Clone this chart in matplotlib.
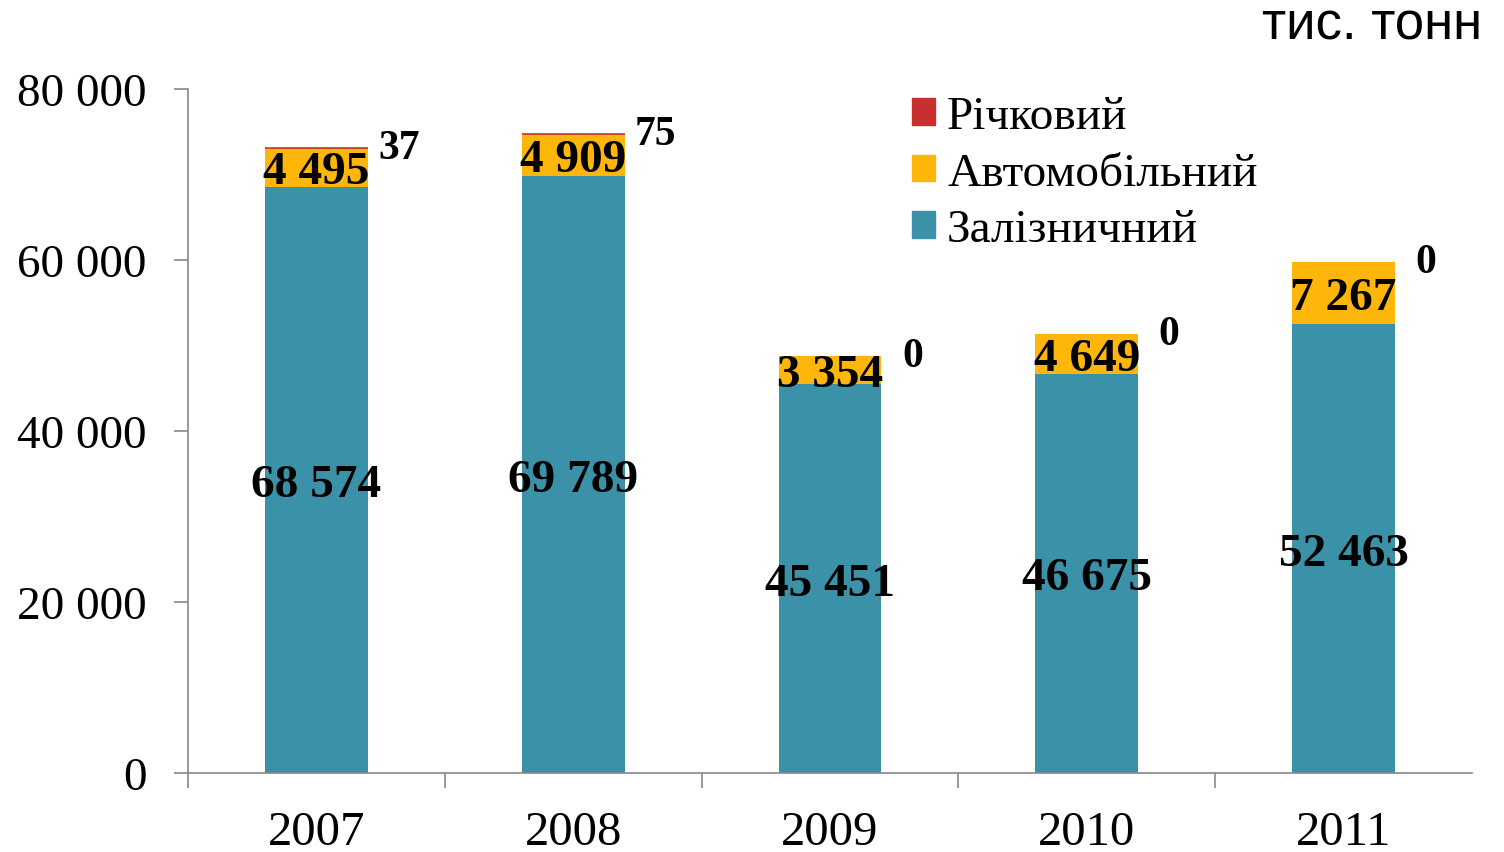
import matplotlib.pyplot as plt
from matplotlib.patches import Patch
import numpy as np

years = ["2007", "2008", "2009", "2010", "2011"]
rail = [68574, 69789, 45451, 46675, 52463]
road = [4495, 4909, 3354, 4649, 7267]
river = [37, 75, 0, 0, 0]
yticks = [0, 20000, 40000, 60000, 80000]
series_names = ["Річковий", "Автомобільний", "Залізничний"]

c_rail = "#3A91A8"
c_road = "#FFB60A"
c_river = "#C8302E"
serif = ["Liberation Serif", "DejaVu Serif"]


def fmt(v):
	return f"{v:,}".replace(",", " ")


def main():
	fig = plt.figure(figsize=(15.04, 8.53), dpi=100)
	ax = fig.add_axes([188 / 1504, 79 / 853, (1472 - 188) / 1504, 684 / 853])

	x = np.arange(len(years))
	w = 0.4
	rail_a = np.array(rail)
	road_a = np.array(road)
	river_a = np.array(river)
	ax.bar(x, rail_a, w, color=c_rail)
	ax.bar(x, road_a, w, bottom=rail_a, color=c_road)
	# thin river segments get an outline so they stay visible
	ax.bar(x, river_a, w, bottom=rail_a + road_a, color=c_river, edgecolor=c_river,
		   linewidth=[1.2 if v > 0 else 0 for v in river])

	for i in range(len(years)):
		ax.text(x[i], rail[i] / 2, fmt(rail[i]), ha="center", va="center_baseline",
				fontsize=34, fontweight="bold", family=serif)
		ax.text(x[i], rail[i] + road[i] / 2, fmt(road[i]), ha="center", va="center_baseline",
				fontsize=34, fontweight="bold", family=serif)
		ax.annotate(fmt(river[i]), (x[i] + w / 2, rail[i] + road[i] + river[i]),
					xytext=(31, 0), textcoords="offset pixels", ha="center", va="center",
					fontsize=30, fontweight="bold", family=serif)

	ax.set_xlim(-0.5, len(years) - 0.5)
	ax.set_ylim(0, 80000)
	ax.set_yticks(yticks)
	ax.set_yticklabels([fmt(v) for v in yticks], family=serif, fontsize=34)
	ax.set_xticks(x)
	ax.set_xticklabels(years, family=serif, fontsize=35)
	ax.set_xticks(np.arange(-0.5, len(years) - 0.5, 1.0), minor=True)

	ax.tick_params(axis="y", length=10, width=1.2, color="#888888", pad=20)
	ax.tick_params(axis="x", which="major", length=0, pad=27)
	ax.tick_params(axis="x", which="minor", length=11, width=1.2, color="#888888")

	for s in ["top", "right"]:
		ax.spines[s].set_visible(False)
	for s in ["left", "bottom"]:
		ax.spines[s].set_color("#888888")
		ax.spines[s].set_linewidth(1.2)

	handles = [Patch(color=c_river), Patch(color=c_road), Patch(color=c_rail)]
	fig.legend(handles, series_names, loc="upper left", bbox_to_anchor=(888 / 1504, 1 - 73 / 853),
			   frameon=False, prop={"family": serif, "size": 34},
			   handlelength=0.5, handleheight=0.5, handletextpad=0.25,
			   labelspacing=0.3, borderpad=0)

	fig.text(1482 / 1504, 1 - 25 / 853, "тис. тонн", ha="right", va="center",
			 fontsize=38, family=["Liberation Sans", "DejaVu Sans"])

	fig.savefig("out.png", dpi=100)


if __name__ == "__main__":
	main()
